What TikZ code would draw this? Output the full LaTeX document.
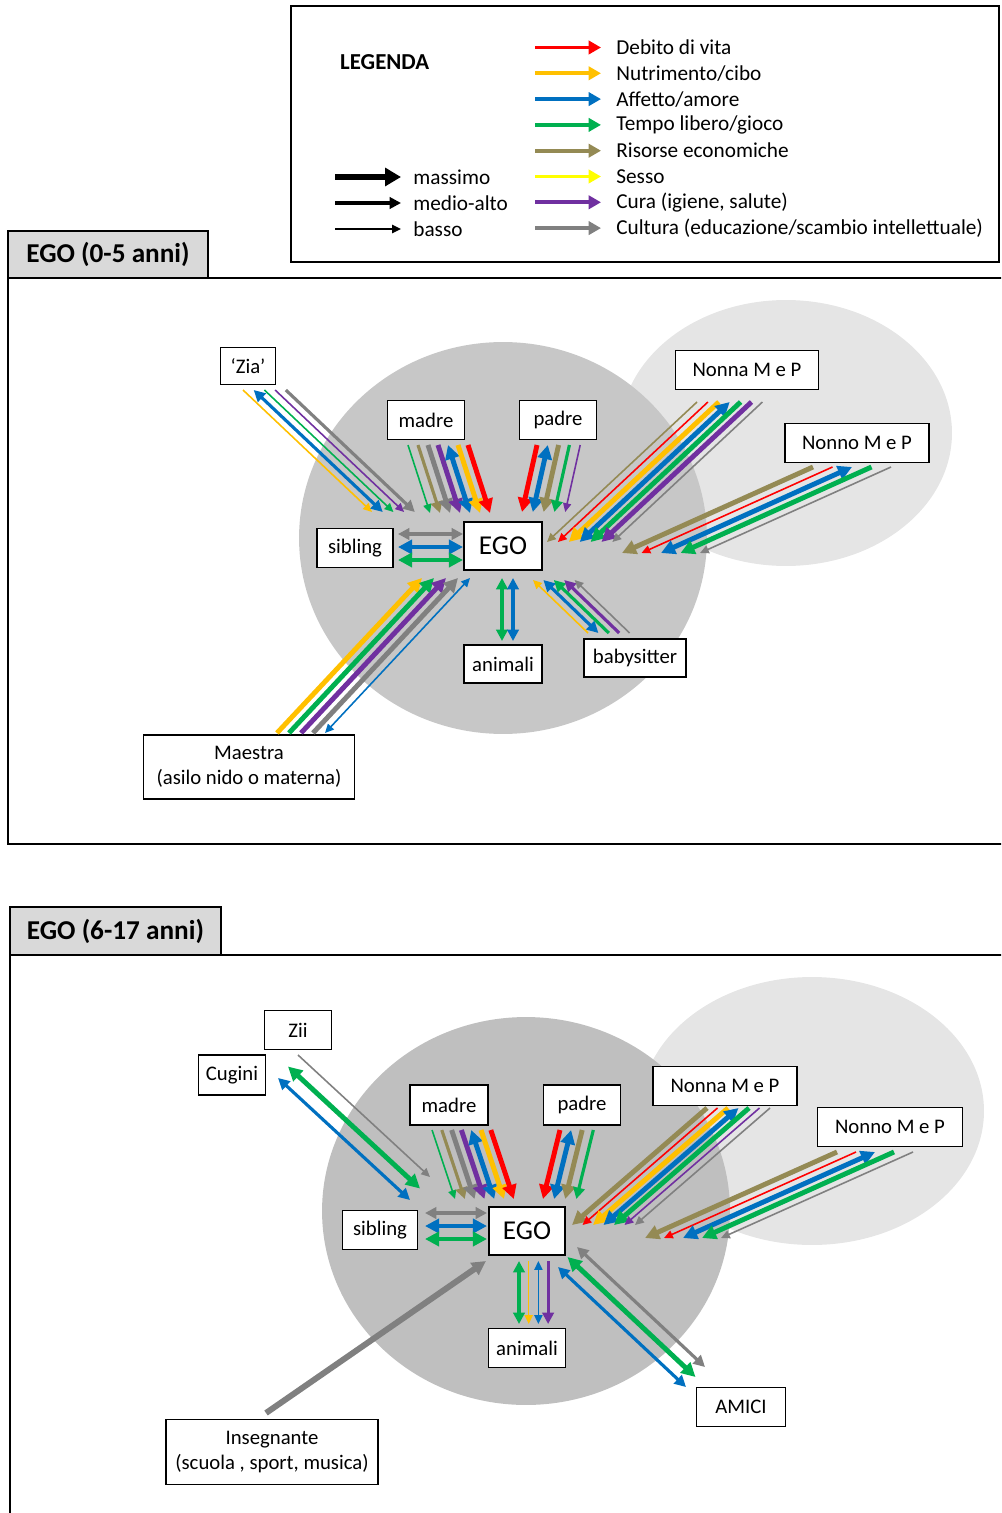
\documentclass[tikz,border=0pt]{standalone}
\usepackage{fontspec}
\setmainfont{Carlito}
\usetikzlibrary{arrows.meta,calc}

\definecolor{rosso}{HTML}{FF0000}
\definecolor{arancio}{HTML}{FFC000}
\definecolor{blu}{HTML}{0070C0}
\definecolor{verde}{HTML}{00B050}
\definecolor{kaki}{HTML}{948A54}
\definecolor{giallo}{HTML}{FFFF00}
\definecolor{viola}{HTML}{7030A0}
\definecolor{grigio}{HTML}{808080}

% fascio di frecce parallele: partenza, arrivo, passo, lista colore/peso/punta
\newcommand{\fascio}[4]{%
	\foreach \col/\peso/\punta [count=\k from 0] in {#4}
		\draw[\peso,\col,\punta] ($(#1)+\k*(#3)$) -- ($(#2)+\k*(#3)$);%
}

\begin{document}
\begin{tikzpicture}[
		x=0.02cm, y=-0.02cm,
		font=\fontsize{12.1}{14}\selectfont,
		box/.style={draw, line width=0.9pt, fill=white, inner sep=1pt, align=center, font=\fontsize{11.8}{14}\selectfont},
		ego/.style={box, font=\fontsize{15.5}{18}\selectfont},
		tab/.style={draw, line width=1.4pt, outer sep=0pt, fill=black!15, font=\bfseries\fontsize{15.5}{18}\selectfont},
		massimo/.style={line width=2.8pt, >={Triangle[length=8pt,width=8pt]}},
		medio/.style={line width=1.8pt, >={Triangle[length=6.5pt,width=6.5pt]}},
		basso/.style={line width=0.9pt, >={Triangle[length=5pt,width=4.6pt]}},
		uni/.style={->}, bi/.style={<->}
	]
	\path[use as bounding box, clip] (0,0) rectangle (1001,1513);

	% legenda
	\draw[line width=1.2pt] (291,6) rectangle (999,262);
	\node[anchor=west, font=\bfseries\fontsize{13}{15}\selectfont] (legenda) at (334,62) {LEGENDA};
	\foreach \col/\txt [count=\i from 0] in {rosso/{Debito di vita}, arancio/{Nutrimento/cibo},
		blu/{Affetto/amore}, verde/{Tempo libero/gioco}, kaki/{Risorse economiche}, giallo/{Sesso},
		viola/{Cura (igiene, salute)}, grigio/{Cultura (educazione/scambio intellettuale)}}
	{
		\node[anchor=west, inner sep=0pt] (leg\i) at (616,{47.5+25.8*\i}) {\txt};
		\draw[line width=2.2pt, \col, -{Triangle[length=7pt,width=7.5pt]}]
			([xshift=-1.62cm]leg\i.west) -- ([xshift=-0.3cm]leg\i.west);
	}
	\node[anchor=west, inner sep=0pt] (lmax) at (413,177) {massimo};
	\node[anchor=west, inner sep=0pt] (lmed) at (413,203) {medio-alto};
	\node[anchor=west, inner sep=0pt] (lbas) at (413,229) {basso};
	\draw[massimo, line width=3.8pt, ->, >={Triangle[length=9pt,width=10pt]}]
		([xshift=-1.56cm]lmax.west) -- ([xshift=-0.24cm]lmax.west);
	\draw[medio, line width=2.2pt, ->] ([xshift=-1.56cm]lmed.west) -- ([xshift=-0.24cm]lmed.west);
	\draw[basso, ->] ([xshift=-1.56cm]lbas.west) -- ([xshift=-0.24cm]lbas.west);

	% EGO 0-5 anni
	\draw[line width=1.4pt] (1010,278) -- (8,278) -- (8,844) -- (1010,844);
	\node[tab, anchor=south west, minimum width=4cm, minimum height=0.94cm] (tab1) at (8,278) {EGO (0-5 anni)};
	\fill[black!10] (786,433) ellipse [x radius=3.32cm, y radius=2.66cm];
	\fill[black!22] (503,538) ellipse [x radius=4.08cm, y radius=3.92cm];

	\node[box, minimum width=1.1cm, minimum height=0.74cm] (zia) at (248,366) {‘Zia’};
	\node[box, minimum width=1.54cm, minimum height=0.78cm] (madre1) at (426,420) {madre};
	\node[box, minimum width=1.54cm, minimum height=0.78cm] (padre1) at (558,420) {padre};
	\node[box, minimum width=2.86cm, minimum height=0.78cm] (nonna1) at (747,370) {Nonna M e P};
	\node[box, minimum width=2.88cm, minimum height=0.78cm] (nonno1) at (857,443) {Nonno M e P};
	\node[box, minimum width=1.52cm, minimum height=0.78cm] (sibling1) at (355,548) {sibling};
	\node[ego, minimum width=1.56cm, minimum height=0.96cm] (ego1) at (503,546) {EGO};
	\node[box, minimum width=1.56cm, minimum height=0.76cm] (animali1) at (503,664) {animali};
	\node[box, minimum width=2.04cm, minimum height=0.76cm] (baby) at (635,658) {babysitter};
	\node[box, minimum width=4.22cm, minimum height=1.28cm] (maestra) at (249,767) {Maestra\\(asilo nido o materna)};

	\coordinate (zia-a) at (243,390);     \coordinate (zia-b) at (372,512);
	\coordinate (madre1-a) at (408,445);  \coordinate (madre1-b) at (430,513);
	\coordinate (padre1-a) at (537,445);  \coordinate (padre1-b) at (522,512);
	\coordinate (nonna1-a) at (697,402);  \coordinate (nonna1-b) at (547,542);
	\coordinate (nonno1-a) at (813,467);  \coordinate (nonno1-b) at (622,553);
	\coordinate (sib1-a) at (398,534);    \coordinate (sib1-b) at (463,534);
	\coordinate (maestra-a) at (277,733); \coordinate (maestra-b) at (422,578);
	\coordinate (anim1-a) at (502,578);   \coordinate (anim1-b) at (502,641);
	\coordinate (baby-a) at (588,633);    \coordinate (baby-b) at (533,580);

	\fascio{zia-a}{zia-b}{10.7,0}{arancio/basso/uni, blu/medio/bi, verde/basso/uni, viola/basso/uni, grigio/medio/uni}
	\fascio{madre1-a}{madre1-b}{10,0}{verde/basso/uni, kaki/medio/uni, grigio/massimo/uni, viola/massimo/uni, blu/massimo/bi, arancio/massimo/uni, rosso/massimo/uni}
	\fascio{padre1-a}{padre1-b}{10.8,0}{rosso/massimo/uni, blu/massimo/bi, kaki/massimo/uni, verde/medio/uni, viola/basso/uni}
	\fascio{nonna1-a}{nonna1-b}{10.9,0}{kaki/basso/uni, rosso/basso/uni, arancio/massimo/uni, blu/massimo/bi, verde/massimo/uni, viola/massimo/uni, grigio/basso/uni}
	\fascio{nonno1-a}{nonno1-b}{19.5,0}{kaki/massimo/uni, rosso/basso/uni, blu/massimo/bi, verde/massimo/uni, grigio/basso/uni}
	\fascio{sib1-a}{sib1-b}{0,13}{grigio/medio/bi, blu/massimo/bi, verde/massimo/bi}
	\fascio{maestra-a}{maestra-b}{12,0}{arancio/massimo/uni, verde/massimo/uni, viola/massimo/uni, grigio/massimo/uni, blu/basso/bi}
	\fascio{anim1-a}{anim1-b}{11,0}{verde/medio/bi, blu/medio/bi}
	\fascio{baby-a}{baby-b}{10.4,0}{arancio/basso/uni, blu/medio/bi, verde/medio/uni, viola/medio/uni, grigio/basso/uni}

	% EGO 6-17 anni
	\draw[line width=1.4pt] (1010,955) -- (10,955) -- (10,1520);
	\node[tab, anchor=south west, minimum width=4.22cm, minimum height=0.96cm] (tab2) at (10,955) {EGO (6-17 anni)};
	\fill[black!10] (812,1111) ellipse [x radius=3.44cm, y radius=2.68cm];
	\fill[black!25] (526,1211) ellipse [x radius=4.08cm, y radius=3.88cm];

	\node[box, minimum width=1.34cm, minimum height=0.78cm] (zii) at (298,1030) {Zii};
	\node[box, minimum width=1.34cm, minimum height=0.8cm] (cugini) at (232,1075) {Cugini};
	\node[box, minimum width=1.56cm, minimum height=0.8cm] (madre2) at (449,1105) {madre};
	\node[box, minimum width=1.54cm, minimum height=0.8cm] (padre2) at (582,1105) {padre};
	\node[box, minimum width=2.88cm, minimum height=0.78cm] (nonna2) at (725,1086) {Nonna M e P};
	\node[box, minimum width=2.9cm, minimum height=0.78cm] (nonno2) at (890,1127) {Nonno M e P};
	\node[box, minimum width=1.5cm, minimum height=0.78cm] (sibling2) at (380,1230) {sibling};
	\node[ego, minimum width=1.52cm, minimum height=0.96cm] (ego2) at (527,1231) {EGO};
	\node[box, minimum width=1.54cm, minimum height=0.78cm] (animali2) at (527,1348) {animali};
	\node[box, minimum width=1.78cm, minimum height=0.78cm] (amici) at (741,1407) {AMICI};
	\node[box, minimum width=4.24cm, minimum height=1.3cm] (insegnante) at (272,1452) {Insegnante\\(scuola , sport, musica)};

	\coordinate (cug-a) at (278,1078);    \coordinate (cug-b) at (410,1200);
	\coordinate (madre2-a) at (432,1130); \coordinate (madre2-b) at (455,1199);
	\coordinate (padre2-a) at (560,1130); \coordinate (padre2-b) at (543,1199);
	\coordinate (nonna2-a) at (707,1108); \coordinate (nonna2-b) at (572,1225);
	\coordinate (nonno2-a) at (837,1152); \coordinate (nonno2-b) at (645,1238);
	\coordinate (sib2-a) at (425,1213);   \coordinate (sib2-b) at (487,1213);
	\coordinate (anim2-a) at (519,1261);  \coordinate (anim2-b) at (519,1324);
	\coordinate (ins-a) at (266,1413);    \coordinate (ins-b) at (486,1261);
	\coordinate (amici-a) at (558,1267);  \coordinate (amici-b) at (686,1387);

	\fascio{cug-a}{cug-b}{10,-11.5}{blu/medio/bi, verde/massimo/bi, grigio/basso/uni}
	\fascio{madre2-a}{madre2-b}{9.8,0}{verde/basso/uni, kaki/medio/uni, grigio/massimo/uni, viola/massimo/uni, blu/massimo/bi, arancio/massimo/uni, rosso/massimo/uni}
	\fascio{padre2-a}{padre2-b}{11.1,0}{rosso/massimo/uni, blu/massimo/bi, kaki/massimo/uni, verde/medio/uni}
	\fascio{nonna2-a}{nonna2-b}{10.5,0}{kaki/massimo/uni, rosso/basso/uni, arancio/massimo/uni, blu/massimo/bi, verde/massimo/uni, viola/basso/uni, grigio/basso/uni}
	\fascio{nonno2-a}{nonno2-b}{19,0}{kaki/massimo/uni, rosso/basso/uni, blu/massimo/bi, verde/massimo/uni, grigio/basso/uni}
	\fascio{sib2-a}{sib2-b}{0,13}{grigio/medio/bi, blu/massimo/bi, verde/massimo/bi}
	\fascio{anim2-a}{anim2-b}{9.7,0}{verde/medio/bi, arancio/basso/uni, blu/basso/bi, viola/medio/uni}
	\fascio{amici-a}{amici-b}{9.5,-10}{blu/medio/bi, verde/massimo/bi, grigio/medio/bi}
	\draw[massimo, grigio, uni, line width=3.4pt] (ins-a) -- (ins-b);
\end{tikzpicture}
\end{document}
